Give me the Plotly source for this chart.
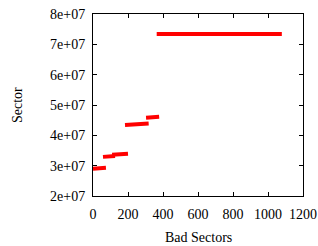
import plotly.graph_objects as go

# Bad-sector runs: start/end bad-sector index and sector number
seg_x_start = [0, 57, 109, 183, 303, 364]
seg_x_end = [74, 126, 200, 318, 378, 1079]
seg_y_start = [2.90e7, 3.29e7, 3.36e7, 4.34e7, 4.58e7, 7.34e7]
seg_y_end = [2.93e7, 3.32e7, 3.39e7, 4.39e7, 4.61e7, 7.34e7]

x_ticks = [0, 200, 400, 600, 800, 1000, 1200]
y_ticks = [2e7, 3e7, 4e7, 5e7, 6e7, 7e7, 8e7]
y_tick_labels = ["2e+07", "3e+07", "4e+07", "5e+07", "6e+07", "7e+07", "8e+07"]

xs, ys = [], []
for x0, x1, y0, y1 in zip(seg_x_start, seg_x_end, seg_y_start, seg_y_end):
    xs += [x0, x1, None]
    ys += [y0, y1, None]

fig = go.Figure(go.Scatter(x=xs, y=ys, mode="lines",
                           line=dict(color="#ff0000", width=4),
                           showlegend=False, hoverinfo="skip"))

font = dict(family="Liberation Serif", size=14, color="black")
axis_common = dict(showgrid=False, zeroline=False, showline=True, linecolor="black",
                   linewidth=1, mirror="allticks", ticks="inside", ticklen=4,
                   tickcolor="black", tickfont=font, automargin=False)
W, H = 318, 246
L, R, T, B = 93, 15, 14, 50
fig.update_layout(
    width=W, height=H,
    margin=dict(l=L, r=R, t=T, b=B),
    paper_bgcolor="white", plot_bgcolor="white",
    font=font,
    xaxis=dict(range=[0, 1200], tickvals=x_ticks, ticklabelstandoff=5, **axis_common),
    yaxis=dict(range=[2e7, 8e7], tickvals=y_ticks, ticktext=y_tick_labels,
               ticklabelstandoff=4, **axis_common),
    annotations=[
        dict(text="Bad Sectors", xref="paper", yref="paper", showarrow=False,
             x=0.5, y=-(237 - (H - B)) / (H - T - B), xanchor="center", yanchor="middle",
             font=font),
        dict(text="Sector", xref="paper", yref="paper", showarrow=False, textangle=-90,
             x=-(L - 17) / (W - L - R), y=0.5, xanchor="center", yanchor="middle",
             font=font),
    ],
)
fig.write_html("out.html", post_script="document.body.style.margin='0px';",
               config={"displayModeBar": False})
